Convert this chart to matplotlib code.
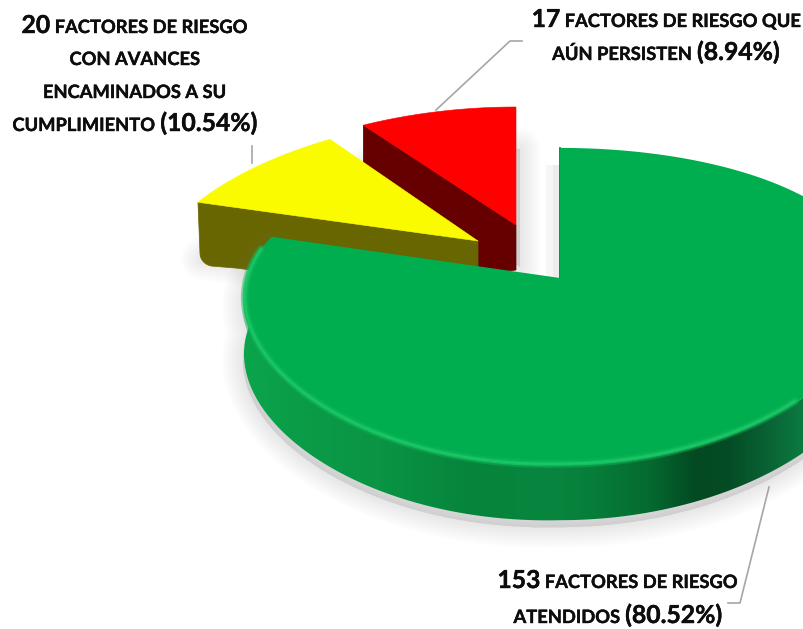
#!/usr/bin/python
# -*- coding: utf-8 -*-
# plot.py - pie "3D" de factores de riesgo
import numpy as np
import matplotlib
matplotlib.use('Agg')
import matplotlib.pyplot as plt
import matplotlib.patheffects as pe
from matplotlib.colors import LinearSegmentedColormap
from matplotlib.patches import Polygon

values = [153, 20, 17]
percents = ['80.52%', '10.54%', '8.94%']
top_colors = ['#00ae50', '#fbfb00', '#ff0000']
cut_colors = ['#046b34', '#686600', '#660000']

W, H = 804, 629
BIG = 17.8
SMALL = 13.2
FONT = 'Lato'

# apex x, apex y, A, B, kx, ky, grosor, tilt
geom = [(560, 278, 315, 153.5, 0.08, 0.18, 55, -8.5),
        (478, 241, 313, 110, 0.15, -0.10, 60, 0),
        (516, 225, 330, 118, 0.18, 0.0, 45, 0)]

label_lines = [
    [(135, 33, [('20', BIG), (' FACTORES DE RIESGO', SMALL)]),
     (135, 65, [('CON AVANCES', SMALL)]),
     (135, 98, [('ENCAMINADOS A SU', SMALL)]),
     (135, 131, [('CUMPLIMIENTO ', SMALL), ('(' + percents[1] + ')', BIG)])],
    [(667, 27, [('17', BIG), (' FACTORES DE RIESGO QUE', SMALL)]),
     (666, 60, [('AÚN PERSISTEN ', SMALL), ('(' + percents[2] + ')', BIG)])],
    [(618, 588, [('153', BIG), (' FACTORES DE RIESGO', SMALL)]),
     (618, 623, [('ATENDIDOS ', SMALL), ('(' + percents[0] + ')', BIG)])],
]

leaders = [([436, 510, 522], [110, 41, 41]),
           ([252, 252], [163, 146]),
           ([769, 740, 728], [487, 603, 603])]

wall_x = [240, 300, 380, 470, 560, 600, 650, 697, 730, 780, 804]
wall_c = ['#0aa54c', '#0a9c48', '#0a9444', '#06843c', '#08853e', '#067c38',
          '#056a30', '#034a22', '#044c25', '#0a6a38', '#0b7a40']


def project(g, theta):
    ax0, ay0, A, B, kx, ky, d, tilt = g
    u, v = np.sin(theta), np.cos(theta)
    return ax0 + A * u / (1 + kx * v), ay0 - B * v / (1 + ky * v) + tilt * np.minimum(u, 0)


def arc(g, t0, t1, n=200):
    return project(g, np.linspace(t0, t1, n))


fig = plt.figure(figsize=(W / 100, H / 100), dpi=100)
ax = fig.add_axes([0, 0, 1, 1])
ax.set_xlim(0, W)
ax.set_ylim(H, 0)
ax.axis('off')

# angulos a partir de los valores (sentido horario desde arriba)
edges = np.radians(np.concatenate([[0], np.cumsum(values)]) * 360.0 / sum(values))
spans = [(edges[i], edges[i + 1]) for i in range(3)]


def soft_shadow(xs, ys, dx, dy, z, lw_max=30, alpha=0.016):
    for lw in np.linspace(lw_max, 2, 12):
        ax.add_patch(Polygon(np.c_[np.array(xs) + dx, np.array(ys) + dy], closed=True,
                             fc='#808080', ec='#808080', lw=lw, alpha=alpha,
                             joinstyle='round', zorder=z))


# rojo y amarillo: sombra, corte y cara superior
for i in (2, 1):
    g = geom[i]
    t0, t1 = spans[i]
    x, y = arc(g, t0, t1)
    d = g[6]
    sx = np.r_[x, g[0], x[0]]
    sy = np.r_[y, g[1], y[0]]
    soft_shadow(sx, sy + d - 6, 4, 3, 1)
    if i == 1:
        # corte con la esquina inferior redondeada
        corner = np.radians(np.linspace(180, 90, 12))
        cx = x[0] + 16 + 14 * np.cos(corner)
        cy = y[0] + d - 9 + 13 * np.sin(corner)
        pts = np.r_[[(x[0], y[0]), (g[0], g[1]), (g[0], g[1] + d)],
                    [(x[0] + 40, y[0] + d + 6)], np.c_[cx, cy][::-1]]
        ax.add_patch(Polygon(pts, closed=True, fc=cut_colors[i], ec=cut_colors[i],
                             lw=0.5, joinstyle='round', zorder=3))
    else:
        ax.add_patch(Polygon([(x[0], y[0]), (g[0], g[1]), (g[0], g[1] + d),
                              (g[0] - 38, g[1] + d + 5), (x[0], y[0] + d - 8)],
                             closed=True, fc=cut_colors[i], ec=cut_colors[i], lw=0.5, zorder=2))
    ax.add_patch(Polygon(np.c_[sx, sy], closed=True, fc=top_colors[i],
                         ec=top_colors[i], lw=0.4, zorder=2 if i == 2 else 3))

# verde
g = geom[0]
t0, t1 = spans[0]
x, y = arc(g, t0, t1, 400)
d = g[6]
front = np.linspace(np.radians(60), np.radians(288), 300)
fx, fy = project(g, front)
wall = np.c_[np.r_[fx, fx[::-1]], np.r_[fy, fy[::-1] + d]]
soft_shadow(wall[:, 0], wall[:, 1], -1, 7, 4)
# sombra tenue junto al corte interior
ax.fill_betweenx([165, g[1]], g[0] - 14, g[0], color='#808080', alpha=0.07, lw=0, zorder=1)
ax.fill_betweenx([165, g[1]], g[0] - 7, g[0], color='#808080', alpha=0.08, lw=0, zorder=1)

# pared interior apenas visible
ax.plot([g[0], g[0]], [148, g[1]], color=cut_colors[0], lw=1.2, zorder=5)

cmap = LinearSegmentedColormap.from_list('pared', list(zip(
    (np.array(wall_x) - wall_x[0]) / float(wall_x[-1] - wall_x[0]), wall_c)))
im = ax.imshow(np.linspace(0, 1, 564).reshape(1, -1), cmap=cmap, aspect='auto',
               extent=(wall_x[0], wall_x[-1], H, 0), zorder=5)
poly = Polygon(wall, closed=True, transform=ax.transData, fc='none', ec='none')
ax.add_patch(poly)
im.set_clip_path(poly)
ax.set_xlim(0, W)
ax.set_ylim(H, 0)

ax.add_patch(Polygon(np.c_[np.r_[x, g[0]], np.r_[y, g[1]]], closed=True,
                     fc=top_colors[0], ec='none', zorder=6))

# bisel claro del borde frontal, se apaga hacia la derecha
rim = np.linspace(np.radians(135), np.radians(284), 240)
rx, ry = project(g, rim)
for lw, col, a in [(6, '#10b658', 0.45), (3.5, '#12bd5c', 0.7), (1.6, '#1bc868', 0.85)]:
    ax.plot(rx + 1.0 * np.sign(560 - rx), ry - 1.5, color=col, lw=lw, alpha=a, zorder=7,
            solid_capstyle='round')

for lx, ly in leaders:
    ax.plot(lx, ly, color='#a6a6a6', lw=1.2, zorder=8)

# textos por tramos, centrados a mano
r = fig.canvas.get_renderer()
for lines in label_lines:
    for cx, base, runs in lines:
        items = [ax.text(0, base, s, fontsize=fs, family=FONT, fontweight='bold',
                         color='#0d0d0d', va='baseline', ha='left', zorder=9,
                         path_effects=[pe.withStroke(linewidth=0.3, foreground='#0d0d0d')])
                 for s, fs in runs]
        widths = []
        for t, (s, fs) in zip(items, runs):
            # los espacios del extremo no cuentan en el bbox
            t.set_text(s.replace(' ', '\u00a0'))
            widths.append(t.get_window_extent(r).width)
        left = cx - sum(widths) / 2.0
        for t, w in zip(items, widths):
            t.set_x(left)
            left += w

plt.savefig('out.png', dpi=100)
